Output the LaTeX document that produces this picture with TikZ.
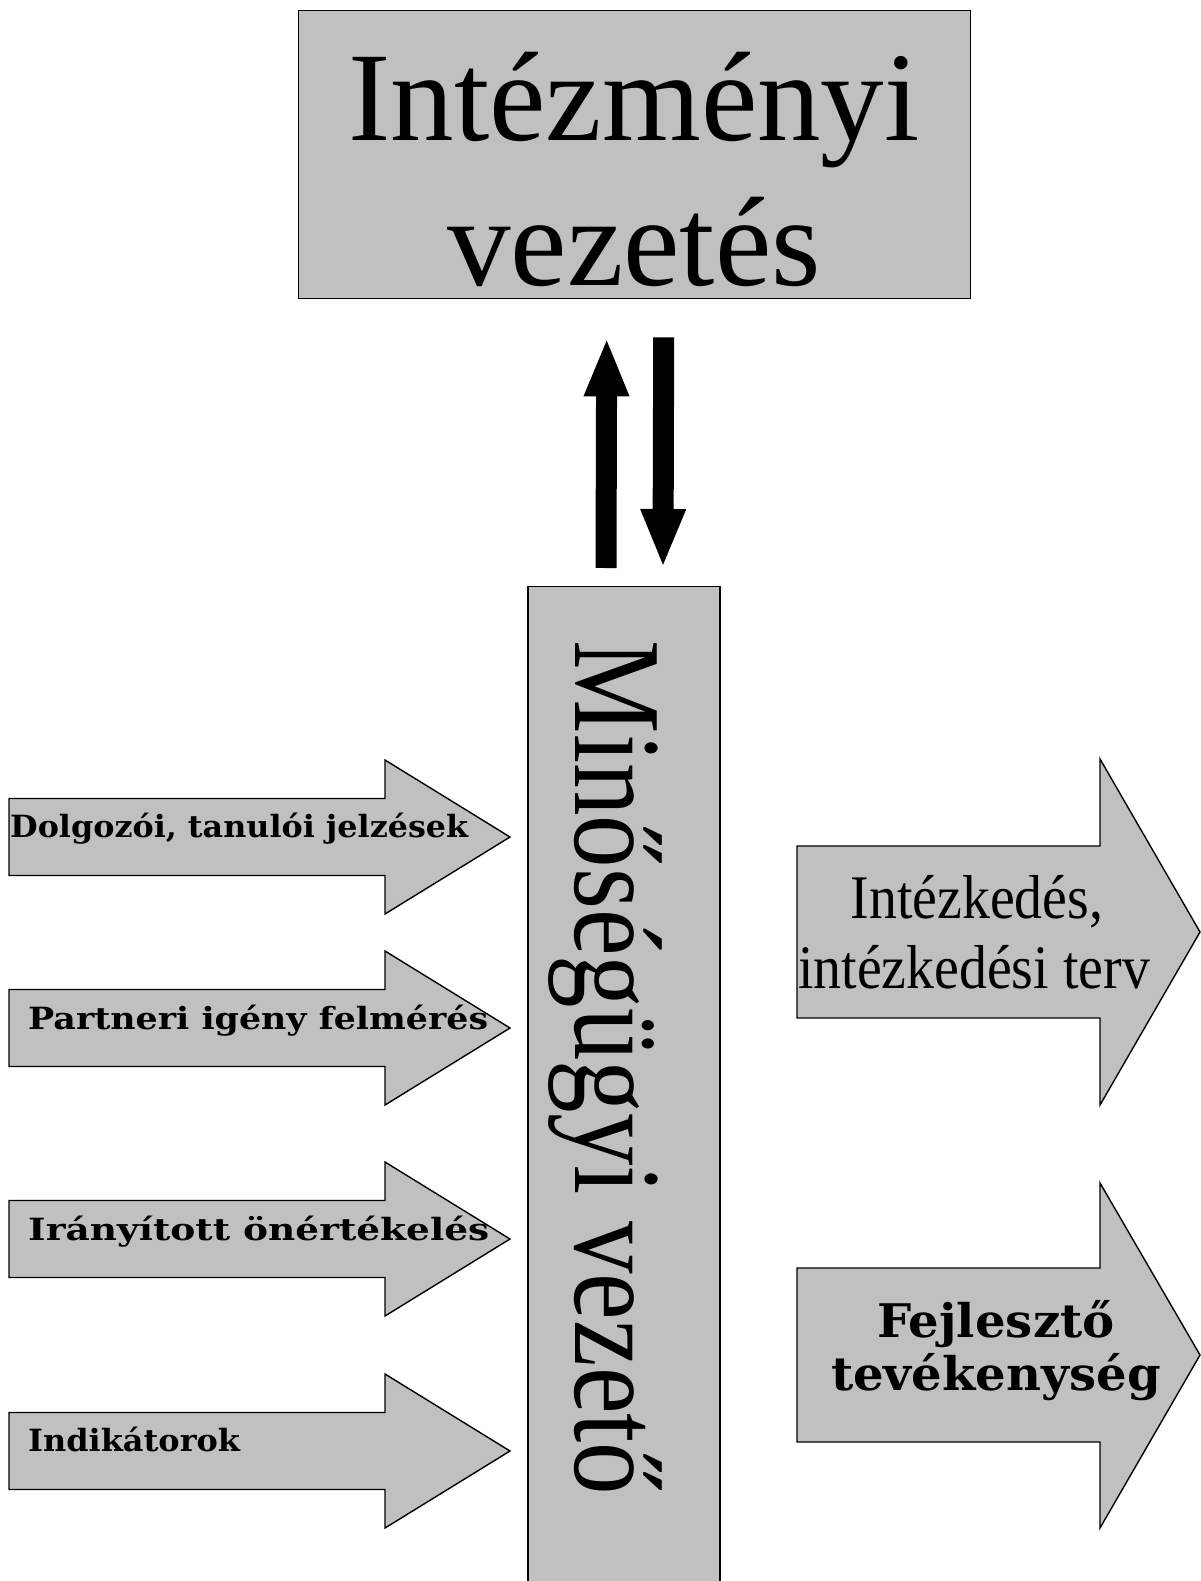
\documentclass[tikz,border=0pt]{standalone}
\usepackage{fontspec}
\setmainfont{Liberation Serif}
\newfontfamily\wideserif{DejaVu Serif}
\usetikzlibrary{arrows.meta}
\definecolor{silver}{HTML}{C0C0C0}
\begin{document}
\begin{tikzpicture}[x=1pt,y=-1pt,
  grey/.style={fill=silver, draw=black, line width=1.4pt},
  bigarrow/.style={line width=21pt, -{Triangle[length=59pt,width=41pt]}},
  smalltxt/.style={font=\wideserif\bfseries\fontsize{30}{36}\selectfont, anchor=base west, inner sep=0pt},
  widetxt/.style={font=\wideserif\bfseries\fontsize{45}{54}\selectfont, anchor=base, inner sep=0pt},
  bigtxt/.style={font=\fontsize{127}{144}\selectfont, anchor=base, inner sep=0pt},
  midtxt/.style={font=\fontsize{62}{70}\selectfont, anchor=base, inner sep=0pt},
  box/.style={grey, inner sep=0pt}
]
\useasboundingbox (0,0) rectangle (1200,1581);

% top box
\node[box, minimum width=672pt, minimum height=288pt, anchor=north west] (top) at (298,10) {};
\node[bigtxt] (top1) at (634,141) {Intézményi};
\node[bigtxt] (top2) at (634,285) {vezetés};

% vertical box
\node[box, minimum width=192pt, minimum height=1010pt, anchor=north] (mv) at (624,586) {};
\node[rotate=-90, anchor=base, inner sep=0pt, font=\fontsize{104}{120}\selectfont] (mvt) at (575,1068) {\scalebox{1.01}[1.2]{Minőségügyi vezető}};

% black arrows
\draw[bigarrow] ([shift={(-18,-18)}]mv.north) -- ([shift={(-28,38)}]top.south);
\draw[bigarrow] ([shift={(29,38)}]top.south) -- ([shift={(39,-18)}]mv.north);

% left arrows
\draw[grey] (9,798.5) -- (385,798.5) -- (385,760) -- (510,837) -- (385,914) -- (385,875.5) -- (9,875.5) -- cycle;
\node[smalltxt] (in1) at (10,837) {\scalebox{1.06}[1.02]{Dolgozói, tanulói jelzések}};

\draw[grey] (9,989.5) -- (385,989.5) -- (385,951) -- (510,1028) -- (385,1105) -- (385,1066.5) -- (9,1066.5) -- cycle;
\node[smalltxt] (in2) at (28,1029) {\scalebox{1.16}[1.02]{Partneri igény felmérés}};

\draw[grey] (9,1200.5) -- (385,1200.5) -- (385,1162) -- (510,1239) -- (385,1316) -- (385,1277.5) -- (9,1277.5) -- cycle;
\node[smalltxt] (in3) at (28,1240) {\scalebox{1.25}[1.02]{Irányított önértékelés}};

\draw[grey] (9,1412.5) -- (385,1412.5) -- (385,1374) -- (510,1451) -- (385,1528) -- (385,1489.5) -- (9,1489.5) -- cycle;
\node[smalltxt] (in4) at (28,1451) {\scalebox{1.065}[1.02]{Indikátorok}};

% right arrows
\draw[grey] (797,846) -- (1100,846) -- (1100,759) -- (1200,932) -- (1100,1105) -- (1100,1018) -- (797,1018) -- cycle;
\node[midtxt] (out1a) at (977,918) {\scalebox{0.9}[1]{Intézkedés,}};
\node[midtxt] (out1b) at (974,988) {\scalebox{0.9}[1]{intézkedési terv}};

\draw[grey] (797,1268) -- (1100,1268) -- (1100,1183) -- (1200,1355) -- (1100,1528) -- (1100,1442) -- (797,1442) -- cycle;
\node[widetxt] (out2a) at (996,1337) {\scalebox{1.07}[1.03]{Fejlesztő}};
\node[widetxt] (out2b) at (996,1390) {\scalebox{1.07}[1.03]{tevékenység}};
\end{tikzpicture}
\end{document}
